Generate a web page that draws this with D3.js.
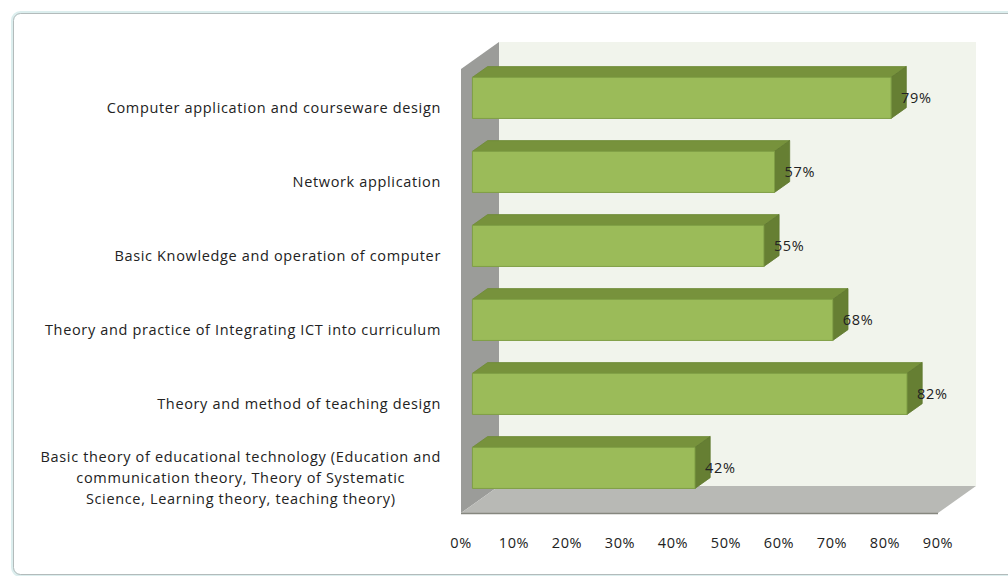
<!DOCTYPE html>
<html>
<head>
<meta charset="utf-8">
<title>ICT training contents</title>
<script src="https://cdn.jsdelivr.net/npm/d3@7"></script>
<style>
  body { margin: 0; background: #fff; }
  .chart text { font-family: "Open Sans", sans-serif; font-size: 14.5px; letter-spacing: 0.65px; fill: #222; }
</style>
</head>
<body>
<svg class="chart"></svg>
<script>
// data, top to bottom as in the picture
var categories = [
  "Computer application and courseware design",
  "Network application",
  "Basic Knowledge and operation of computer",
  "Theory and practice of Integrating ICT into curriculum",
  "Theory and method of teaching design",
  "Basic theory of educational technology (Education  and|communication  theory, Theory of Systematic|Science, Learning theory, teaching theory)"
];
var values = [0.79, 0.57, 0.55, 0.68, 0.82, 0.42];
var ticks = [0, 0.1, 0.2, 0.3, 0.4, 0.5, 0.6, 0.7, 0.8, 0.9];

var W = 1008, H = 576;
var origin = {x: 461, y: 69},   // front top-left corner of the plot
    depth = {dx: 38, dy: -27},  // offset from front to back wall
    plotW = 477, plotH = 444;

var x = d3.scaleLinear().domain([0, 0.9]).range([0, plotW]);
var y = d3.scaleBand().domain(categories).range([0, plotH])
  .paddingInner(0.445).paddingOuter(0.2225);

// project (x, y, z) with z = depth fraction 0..1
function P(px, py, z) {
  return [origin.x + px + depth.dx * z, origin.y + py + depth.dy * z];
}
function poly(pts) { return pts.map(function(p){ return p.join(","); }).join(" "); }

var svg = d3.select(".chart").attr("width", W).attr("height", H);

// chart frame
svg.append("rect").attr("x", 12.5).attr("y", 12.5).attr("width", 1010).attr("height", 563)
  .attr("rx", 8).attr("fill", "#fff").attr("stroke", "#dceeee").attr("stroke-width", 3);
svg.append("rect").attr("x", 13.5).attr("y", 13.5).attr("width", 1010).attr("height", 561)
  .attr("rx", 7).attr("fill", "none").attr("stroke", "#b3bbbb").attr("stroke-width", 1);

// back wall
svg.append("polygon").attr("points", poly([P(0,0,1), P(plotW,0,1), P(plotW,plotH,1), P(0,plotH,1)]))
  .attr("fill", "#f1f4ec");
// side wall
svg.append("polygon").attr("points", poly([P(0,0,0), P(0,0,1), P(0,plotH,1), P(0,plotH,0)]))
  .attr("fill", "#9b9c99");
// floor
svg.append("polygon").attr("points", poly([P(0,plotH,0), P(plotW,plotH,0), P(plotW,plotH,1), P(0,plotH,1)]))
  .attr("fill", "#b8b9b5");
svg.append("line")
  .attr("x1", P(0,plotH,0)[0]).attr("y1", P(0,plotH,0)[1] + 0.5)
  .attr("x2", P(plotW,plotH,0)[0]).attr("y2", P(plotW,plotH,0)[1] + 0.5)
  .attr("stroke", "#86877f").attr("stroke-width", 1.5);

// bars
var z0 = 0.3, z1 = 0.7;
var bars = svg.selectAll(".bar").data(values).enter().append("g").attr("class", "bar");
bars.each(function(v, i) {
  var g = d3.select(this), t = y(categories[i]), b = t + y.bandwidth(), r = x(v);
  g.append("polygon").attr("points", poly([P(0,t,z0), P(0,t,z1), P(r,t,z1), P(r,t,z0)]))
    .attr("fill", "#77923c").attr("stroke", "#6f8a37").attr("stroke-width", 0.8);
  g.append("polygon").attr("points", poly([P(r,t,z0), P(r,t,z1), P(r,b,z1), P(r,b,z0)]))
    .attr("fill", "#667f33").attr("stroke", "#60792f").attr("stroke-width", 0.8);
  g.append("polygon").attr("points", poly([P(0,t,z0), P(r,t,z0), P(r,b,z0), P(0,b,z0)]))
    .attr("fill", "#9bbb59").attr("stroke", "#7f9e45").attr("stroke-width", 1);
  var c = P(r, t + y.bandwidth() / 2, z0);
  g.append("text").attr("x", c[0] + 10).attr("y", c[1]).attr("dy", "0.35em")
    .text(Math.round(v * 100) + "%");
});

// category labels
svg.selectAll(".cat").data(categories).enter().append("g").attr("class", "cat")
  .each(function(d) {
    var lines = d.split("|"), g = d3.select(this);
    var cy = origin.y + y(d) + y.bandwidth() / 2 - 8 + 10;
    var txt = g.append("text").attr("text-anchor", "end");
    lines.forEach(function(l, k) {
      txt.append("tspan").attr("x", 441).attr("y", cy + (k - (lines.length - 1) / 2) * 21)
        .attr("dy", "0.35em").text(l);
    });
    if (lines.length > 1) {
      // centre the lines of a wrapped label, block right edge at 441
      var w = txt.node().getBBox().width, mid = 441 - w / 2;
      txt.attr("text-anchor", "middle").selectAll("tspan").attr("x", mid);
    }
  });

// x axis labels on the front edge of the floor
svg.selectAll(".tick").data(ticks).enter().append("text").attr("class", "tick")
  .attr("x", function(d){ return origin.x + x(d); })
  .attr("y", 543).attr("dy", "0.35em").attr("text-anchor", "middle")
  .text(d3.format(".0%"));
</script>
</body>
</html>
